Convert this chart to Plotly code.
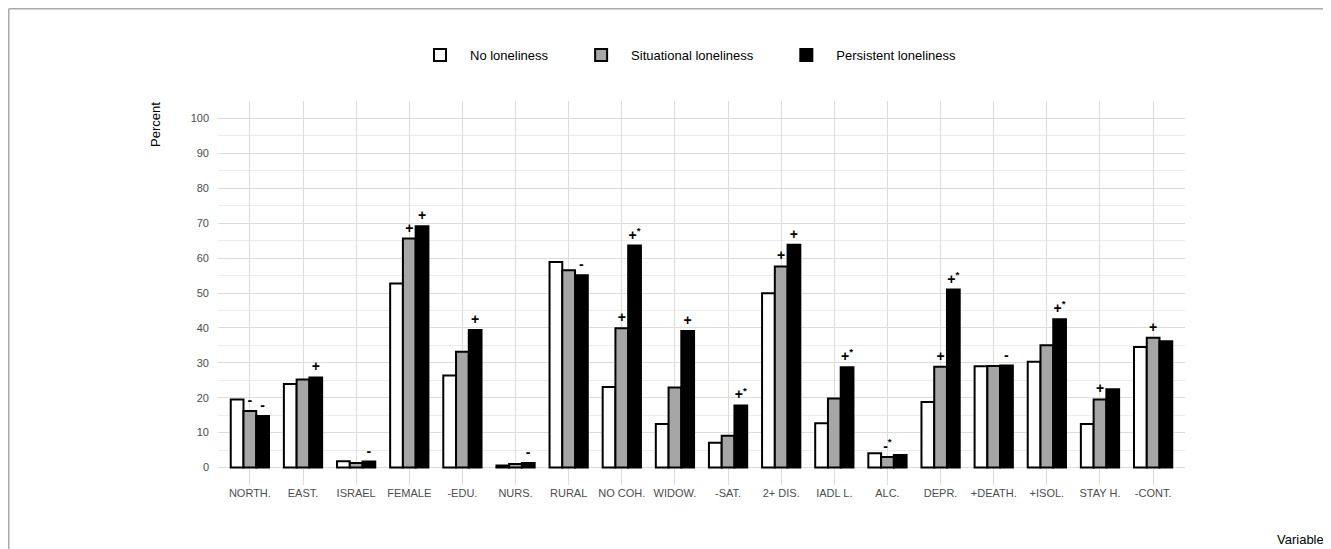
import plotly.graph_objects as go

categories = ["NORTH.", "EAST.", "ISRAEL", "FEMALE", "-EDU.", "NURS.", "RURAL", "NO COH.", "WIDOW.",
              "-SAT.", "2+ DIS.", "IADL L.", "ALC.", "DEPR.", "+DEATH.", "+ISOL.", "STAY H.", "-CONT."]

no_loneliness = [19.5, 23.9, 1.8, 52.7, 26.4, 0.6, 58.9, 23.1, 12.5,
                 7.1, 49.9, 12.7, 4.1, 18.8, 29.0, 30.3, 12.5, 34.5]
situational = [16.2, 25.2, 1.3, 65.6, 33.2, 1.0, 56.5, 39.9, 22.9,
               9.1, 57.6, 19.8, 3.0, 28.9, 29.1, 35.0, 19.5, 37.2]
persistent = [14.8, 25.8, 1.7, 69.1, 39.4, 1.3, 55.1, 63.6, 39.1,
              17.8, 63.8, 28.7, 3.6, 51.0, 29.2, 42.5, 22.4, 36.2]

no_marks = [""] * 18
sit_marks = ["-", "", "", "+", "", "", "", "+", "",
             "", "+", "", "-<sup>*</sup>", "+", "", "", "+", "+"]
per_marks = ["-", "+", "-", "+", "+", "-", "-", "+<sup>*</sup>", "+",
             "+<sup>*</sup>", "+", "+<sup>*</sup>", "", "+<sup>*</sup>", "-", "+<sup>*</sup>", "", ""]

series_names = ["No loneliness", "Situational loneliness", "Persistent loneliness"]

series = [
    (series_names[0], no_loneliness, no_marks, "#ffffff"),
    (series_names[1], situational, sit_marks, "#a6a6a6"),
    (series_names[2], persistent, per_marks, "#000000"),
]

FONT = "Liberation Sans, Arial, sans-serif"
PAD = "&nbsp;" * 5

fig = go.Figure()
for i, (name, vals, marks, color) in enumerate(series):
    fig.add_trace(go.Bar(
        name=name + (PAD if i < len(series) - 1 else ""),
        x=categories, y=vals,
        marker=dict(color=color, line=dict(color="#000000", width=2)),
        text=marks, textposition="outside", cliponaxis=False,
        constraintext="none", textangle=0,
        textfont=dict(size=14, color="#000000", family=FONT, weight="bold"),
        hoverinfo="skip",
    ))

# page has an 8px body margin; figure coordinates below are page coords minus 8
OFF = 8
W, H = 1331 - OFF, 549 - OFF
L, T = 218 - OFF, 101 - OFF
R = W - (1185 - OFF)
B = H - (485 - OFF)
pw, ph = W - L - R, H - T - B

def px_x(px):
    return (px - OFF - L) / pw

def px_y(py):
    return (H - B - (py - OFF)) / ph

fig.update_layout(
    width=W, height=H,
    margin=dict(l=L, r=R, t=T, b=B, pad=0),
    paper_bgcolor="white", plot_bgcolor="white",
    barmode="group", bargap=0.28, bargroupgap=0,
    font=dict(family=FONT, size=13, color="#000000"),
    showlegend=True,
    legend=dict(orientation="h", x=px_x(686), xanchor="center",
                y=px_y(55), yanchor="middle",
                font=dict(size=13, color="#000000"),
                itemwidth=50, traceorder="normal"),
    xaxis=dict(
        showgrid=True, gridcolor="#dcdcdc", gridwidth=1,
        showline=False, zeroline=False, ticks="",
        tickfont=dict(size=11, color="#4d4d4d"),
        range=[-0.6, 17.6],
    ),
    yaxis=dict(
        range=[-5, 105], tick0=0, dtick=10,
        showgrid=True, gridcolor="#dcdcdc", gridwidth=1,
        minor=dict(dtick=5, tick0=0, showgrid=True, gridcolor="#ececec", gridwidth=1),
        showline=False, zeroline=False, ticks="",
        tickfont=dict(size=11, color="#4d4d4d"),
        ticklabelstandoff=8,
    ),
    annotations=[
        dict(text="Percent", textangle=-90, xref="paper", yref="paper",
             x=px_x(155), y=px_y(125),
             xanchor="center", yanchor="middle", showarrow=False,
             font=dict(size=13, color="#000000")),
        dict(text="Variable", xref="paper", yref="paper",
             x=px_x(1300), y=px_y(539),
             xanchor="center", yanchor="middle", showarrow=False,
             font=dict(size=13, color="#000000")),
    ],
    shapes=[
        dict(type="line", xref="paper", yref="paper",
             x0=px_x(8.75), x1=px_x(1340),
             y0=px_y(8.75), y1=px_y(8.75),
             line=dict(color="#aaaaaa", width=1.5), layer="above"),
        dict(type="line", xref="paper", yref="paper",
             x0=px_x(8.75), x1=px_x(8.75),
             y0=px_y(8.75), y1=px_y(560),
             line=dict(color="#aaaaaa", width=1.5), layer="above"),
    ],
)

fig.write_html("out.html")
